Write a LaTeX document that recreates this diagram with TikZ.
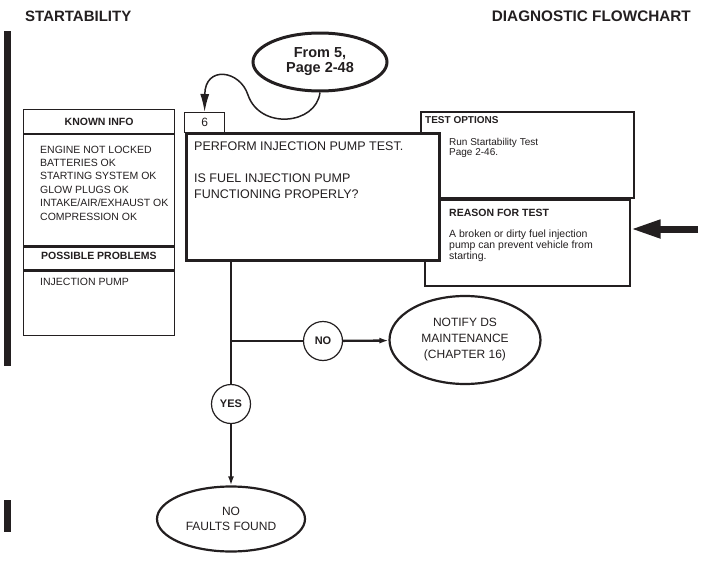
\documentclass[tikz,border=0pt]{standalone}
\usepackage{fontspec}
\setmainfont{Liberation Sans}
\usetikzlibrary{shapes.geometric,arrows.meta,positioning}
\definecolor{ink}{RGB}{35,31,32}
\newcommand\infofont{\fontsize{10.5}{13.4}\selectfont}
\newcommand\headfont{\bfseries\fontsize{10.5}{12}\selectfont}

\begin{document}
\begin{tikzpicture}[x=1pt, y=-1pt,
    every node/.append style={text=ink},
    frame/.style={draw=ink, line width=1.2pt, anchor=north west, inner sep=0pt, fill=white},
    txt/.style={anchor=north west, inner sep=0pt, align=left},
    oval/.style={draw=ink, ellipse, line width=2.2pt, align=center, inner sep=0pt, fill=white,
      font=\fontsize{12}{16}\selectfont},
    answer/.style={draw=ink, circle, line width=1.2pt, minimum size=39pt, inner sep=0pt, fill=white,
      font=\bfseries\fontsize{11}{12}\selectfont},
    flow/.style={draw=ink, line width=2.3pt},
    flowarrow/.style={-{Latex[length=9pt,width=6pt]}}]
  \useasboundingbox (0,0) rectangle (705,581);
  \node[anchor=west, inner sep=0pt, font=\bfseries\fontsize{15}{18}\selectfont] (title) at (25,16) {STARTABILITY};
  \node[anchor=east, inner sep=0pt, font=\bfseries\fontsize{15.3}{18}\selectfont] (chart) at (691,16) {DIAGNOSTIC FLOWCHART};
  \fill[ink] (4,31) rectangle (11,366);
  \fill[ink] (4,500) rectangle (11,532);

  \node[frame, minimum width=151pt, minimum height=24pt] (kihead) at (23,109) {};
  \node[frame, minimum width=151pt, minimum height=111pt] (kibody) at (kihead.south west) {};
  \node[frame, minimum width=151pt, minimum height=23pt] (pphead) at (kibody.south west) {};
  \node[frame, minimum width=151pt, minimum height=64pt] (ppbody) at (pphead.south west) {};
  \node[font=\headfont, inner sep=0pt] (kititle) at (kihead) {KNOWN INFO};
  \node[txt, font=\infofont] (kitext) at (40,145.5) {ENGINE NOT LOCKED\\BATTERIES OK\\STARTING SYSTEM OK\\
    GLOW PLUGS OK\\INTAKE/AIR/EXHAUST OK\\COMPRESSION OK};
  \node[txt, font=\headfont, anchor=west] (pptitle) at (41,256) {POSSIBLE PROBLEMS};
  \node[txt, font=\infofont, anchor=west] (pptext) at (40,282) {INJECTION PUMP};

  \node[frame, line width=2pt, minimum width=213pt, minimum height=86pt] (testopt) at (420,111) {};
  \node[frame, line width=1.5pt, minimum width=205pt, minimum height=86pt] (reason) at (424,199) {};
  \node[txt, font=\bfseries\fontsize{10}{12}\selectfont] (testtitle) at (425,116) {TEST OPTIONS};
  \node[txt, font=\fontsize{10}{10}\selectfont] (testtext) at (449,138.5) {Run Startability Test\\Page 2-46.};
  \node[txt, font=\headfont] (reasontitle) at (449,209) {REASON FOR TEST};
  \node[txt, font=\fontsize{10.5}{11}\selectfont] (reasontext) at (449,230) {A broken or dirty fuel injection\\
    pump can prevent vehicle from\\starting.};

  \node[frame, minimum width=40pt, minimum height=20pt, font=\fontsize{12}{14}\selectfont] (step6) at (184,112) {6};
  \node[frame, line width=2.5pt, minimum width=253pt, minimum height=127pt] (main) at (185,132) {};
  \node[txt, font=\fontsize{12.5}{16}\selectfont] (maintext) at (194,141.5) {PERFORM INJECTION PUMP TEST.\\[16pt]
    IS FUEL INJECTION PUMP\\FUNCTIONING PROPERLY?};

  \node[oval, line width=3pt, minimum width=134pt, minimum height=58pt,
    font=\bfseries\fontsize{14.5}{15}\selectfont] (from5) at (320,62) {From 5,\\Page 2-48};
  \node[oval, minimum width=151pt, minimum height=88pt] (notify) at (465,340) {NOTIFY DS\\MAINTENANCE\\(CHAPTER 16)};
  \node[oval, minimum width=148pt, minimum height=65pt, font=\fontsize{12}{15}\selectfont] (nofaults) at (231,519) {NO\\FAULTS FOUND};
  \node[answer] (no) at (323,341) {NO};
  \node[answer] (yes) at (231,404) {YES};
  \coordinate (split) at (yes |- no);
  \coordinate (pointer) at (698,229);

  \draw[draw=ink, line width=1.5pt, -{Latex[length=18pt,width=9pt]}] (from5.south)
    .. controls (316,125) and (260,130) .. (248,95) .. controls (240,70) and (205,65) .. (step6.north);
  \draw[flow] (main.south -| yes) -- (yes);
  \draw[flow, flowarrow] (yes) -- (nofaults);
  \draw[flow] (split) -- (no);
  \draw[flow, flowarrow] (no) -- (notify);
  \draw[draw=ink, line width=7pt, -{Triangle[length=30pt,width=17pt]}] (pointer) -- (reason.east |- pointer);
\end{tikzpicture}
\end{document}
